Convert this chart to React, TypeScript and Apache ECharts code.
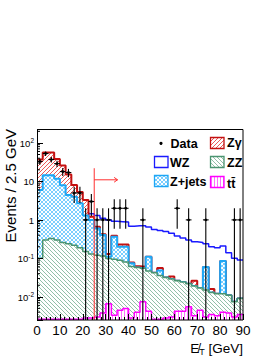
import React, { useEffect, useRef } from "react";
import * as echarts from "echarts";

const BIN_WIDTH = 2.5;
const X_MIN = 0;
const X_MAX = 90;
const X_INTERVAL = 10;
const Y_MIN = 0.0025;
const Y_MAX = 230;
const CUT_VALUE = 25;

// observed events per 2.5 GeV bin
const dataCounts = [33, 53, 37, 29, 18, 17, 5, 5, 1, 3, 1, 1, 1, 2, 2, 2, 0, 0, 1, 0, 0, 0, 0, 0, 2, 0, 1, 0, 0, 1, 0, 0, 0, 0, 1, 1];

// WZ (overlay, not stacked)
const wz = [0.6, 1.2, 1.6, 1.9, 2.0, 2.0, 1.9, 1.7, 1.6, 1.45, 1.3, 1.1, 1.0, 0.92, 0.9, 0.88, 0.68, 0.7, 0.7, 0.65, 0.56, 0.53, 0.5, 0.45, 0.38, 0.34, 0.3, 0.27, 0.26, 0.24, 0.2, 0.19, 0.21, 0.14, 0.1, 0.09];

// stacked backgrounds (bottom -> top): ttbar, ZZ, Z+jets, Zgamma
const ttbar = [0, 0, 0, 0, 0, 0, 0, 0, 0.0028, 0.0028, 0.003, 0.0038, 0.0066, 0.0033, 0.0045, 0.005, 0.0028, 0.004, 0.0075, 0.0042, 0, 0, 0.0028, 0.003, 0.0042, 0.0042, 0.0055, 0.0032, 0.0045, 0.003, 0.0035, 0.0032, 0.004, 0.0038, 0.003, 0.0035];
const zz = [0.1, 0.3, 0.33, 0.3, 0.26, 0.24, 0.22, 0.19, 0.147, 0.127, 0.117, 0.111, 0.093, 0.092, 0.085, 0.075, 0.059, 0.054, 0.048, 0.043, 0.042, 0.036, 0.029, 0.026, 0.022, 0.02, 0.0165, 0.0158, 0.0125, 0.012, 0.0095, 0.0088, 0.008, 0.0072, 0.0044, 0.0055];
const zjets = [5.9, 14.2, 14.2, 11.5, 7.7, 4.2, 3.8, 2.5, 1.15, 0.87, 0.48, 0.29, 0.01, 0.27, 0.11, 0.12, 0.013, 0, 0, 0.063, 0, 0.012, 0, 0, 0, 0, 0, 0, 0, 0.045, 0, 0, 0.074, 0, 0, 0];
const zgamma = [31, 41.5, 41.5, 26.2, 18, 10.6, 4, 2.6, 2.0, 0.2, 0.06, 0.02, 0.02, 0.02, 0.03, 0.03, 0.003, 0.004, 0.005, 0, 0, 0.008, 0, 0.005, 0, 0, 0, 0.007, 0, 0, 0.003, 0, 0, 0, 0, 0];

const FONT = "'Liberation Sans', Arial, Helvetica, sans-serif";
const C_ZG = "#c41010";
const C_ZJ = "#1ea7f5";
const C_ZZ = "#4a9470";
const C_TT = "#ff00ff";
const C_WZ = "#1a1aff";

function makePattern(kind: string, color: string, size: number, lw: number) {
  const c = document.createElement("canvas");
  c.width = size;
  c.height = size;
  const ctx = c.getContext("2d")!;
  ctx.fillStyle = "#ffffff";
  ctx.fillRect(0, 0, size, size);
  ctx.strokeStyle = color;
  ctx.lineWidth = lw;
  ctx.beginPath();
  const s = size;
  if (kind === "fwd" || kind === "cross") {
    ctx.moveTo(-s, s); ctx.lineTo(s, -s);
    ctx.moveTo(0, s); ctx.lineTo(s, 0);
    ctx.moveTo(0, 2 * s); ctx.lineTo(2 * s, 0);
  }
  if (kind === "back" || kind === "cross") {
    ctx.moveTo(0, 0); ctx.lineTo(s, s);
    ctx.moveTo(0, -s); ctx.lineTo(2 * s, s);
    ctx.moveTo(-s, 0); ctx.lineTo(s, 2 * s);
  }
  if (kind === "vert") {
    ctx.moveTo(s / 2, 0); ctx.lineTo(s / 2, s);
  }
  ctx.stroke();
  return { image: c, repeat: "repeat" };
}

export default function App() {
  const ref = useRef<HTMLDivElement>(null);
  useEffect(() => {
    const el = ref.current!;
    const chart = echarts.init(el, undefined, { renderer: "svg" });

    const pZg = makePattern("fwd", "#ec5a5a", 4, 1);
    const pZj = makePattern("cross", "#6cc8ff", 4, 0.9);
    const pZZ = makePattern("back", "#86b89e", 4, 0.9);
    const pTT = makePattern("vert", "#ff6eff", 3, 1);

    const floorV = Y_MIN * 1.05;
    const stepData = (vals: number[]) => {
      const pts: number[][] = vals.map((v, i) => [X_MIN + i * BIN_WIDTH, Math.max(v, floorV)]);
      pts.push([X_MIN + vals.length * BIN_WIDTH, Math.max(vals[vals.length - 1], floorV)]);
      return pts;
    };

    const stackOrder = [ttbar, zz, zjets, zgamma];
    const cumulative: number[][] = [];
    stackOrder.forEach((arr, k) => {
      cumulative.push(arr.map((v, i) => v + (k > 0 ? cumulative[k - 1][i] : 0)));
    });
    const [cumTT, cumZZ, cumZJ, cumZG] = cumulative;

    const histSeries = (name: string, vals: number[], color: string, width: number, fill: any, z: number) => ({
      name,
      type: "line",
      step: "end",
      data: stepData(vals),
      symbol: "none",
      showSymbol: false,
      silent: true,
      z,
      lineStyle: { color, width },
      areaStyle: fill ? { color: fill, opacity: 1, origin: "start" } : undefined,
      emphasis: { disabled: true },
    });

    const yMinor: number[][] = [];
    for (let k = -3; k <= 2; k++) {
      for (let m = 2; m <= 9; m++) {
        const v = m * Math.pow(10, k);
        if (v > Y_MIN && v < Y_MAX) yMinor.push([X_MIN, v]);
      }
    }

    const dataPts = dataCounts
      .map((n, i) => (n > 0 ? [X_MIN + i * BIN_WIDTH + BIN_WIDTH / 2, n] : null))
      .filter((p) => p !== null);

    const legendText = (text: string, x: number, y: number) => ({
      type: "text",
      x,
      y,
      z: 200,
      style: { text, fill: "#000", fontSize: 12.5, fontWeight: "bold", fontFamily: FONT, align: "left", verticalAlign: "middle" },
    });
    const legendBox = (x: number, y: number, stroke: string, fill: any) => ({
      type: "rect",
      z: 200,
      shape: { x, y, width: 13.5, height: 11 },
      style: { fill, stroke, lineWidth: 1.3 },
    });

    const option: any = {
      animation: false,
      grid: { left: 37, top: 129, width: 206, height: 191, containLabel: false },
      xAxis: {
        type: "value",
        min: X_MIN,
        max: X_MAX,
        interval: X_INTERVAL,
        z: 10,
        axisLine: { show: false },
        splitLine: { show: false },
        axisTick: { show: true, inside: true, length: 6, lineStyle: { color: "#000", width: 1 } },
        minorTick: { show: true, splitNumber: 5, length: 3, lineStyle: { color: "#000", width: 1 } },
        axisLabel: { color: "#000", fontSize: 13.5, fontFamily: FONT, margin: 3 },
      },
      yAxis: {
        type: "log",
        logBase: 10,
        min: Y_MIN,
        max: Y_MAX,
        z: 10,
        axisLine: { show: false },
        splitLine: { show: false },
        axisTick: { show: true, inside: true, length: 6, lineStyle: { color: "#000", width: 1 } },
        axisLabel: {
          color: "#000",
          fontFamily: FONT,
          margin: 3,
          formatter: (v: number) => {
            const lg = Math.log10(v);
            const e = Math.round(lg);
            if (Math.abs(lg - e) > 1e-6) return "";
            if (e === 0) return "{b|1}";
            if (e === 1) return "{b|10}";
            return "{b|10}{s|" + e + "}";
          },
          rich: {
            b: { fontSize: 9.5, fontFamily: FONT, lineHeight: 11, verticalAlign: "bottom", color: "#000" },
            s: { fontSize: 6.5, fontFamily: FONT, lineHeight: 11, verticalAlign: "top", color: "#000" },
          },
        },
      },
      series: [
        histSeries("WZ", wz, C_WZ, 1.5, null, 2),
        histSeries("Zγ", cumZG, C_ZG, 2, pZg, 3),
        histSeries("Z+jets", cumZJ, C_ZJ, 2, pZj, 4),
        histSeries("ZZ", cumZZ, C_ZZ, 1.5, pZZ, 5),
        histSeries("tt̄", cumTT, C_TT, 1.5, pTT, 6),
        {
          type: "line",
          name: "cut",
          data: [[CUT_VALUE, Y_MIN], [CUT_VALUE, 22]],
          symbol: "none",
          silent: true,
          z: 7,
          lineStyle: { color: "#ff3030", width: 1 },
        },
        {
          type: "line",
          name: "arrow",
          data: [[CUT_VALUE, 11], [35.2, 11]],
          symbol: "none",
          silent: true,
          z: 7,
          lineStyle: { color: "#ff3030", width: 1 },
        },
        {
          type: "line",
          name: "arrowhead",
          data: [[33.7, 12.7], [35.2, 11], [33.7, 9.55]],
          symbol: "none",
          silent: true,
          z: 7,
          lineStyle: { color: "#ff3030", width: 1 },
        },
        {
          type: "custom",
          name: "Data",
          data: dataPts,
          z: 8,
          silent: true,
          renderItem: (params: any, api: any) => {
            const x = api.value(0);
            const n = api.value(1);
            const err = Math.sqrt(n);
            const cs = params.coordSys;
            const c = api.coord([x, n]);
            const hi = api.coord([x, n + err]);
            const loY = n - err > Y_MIN ? api.coord([x, n - err])[1] : cs.y + cs.height;
            const l = api.coord([x - BIN_WIDTH / 2, n]);
            const r = api.coord([x + BIN_WIDTH / 2, n]);
            const st = { stroke: "#000", lineWidth: 1.1 };
            return {
              type: "group",
              children: [
                { type: "line", shape: { x1: c[0], y1: hi[1], x2: c[0], y2: loY }, style: st },
                { type: "line", shape: { x1: l[0], y1: c[1], x2: r[0], y2: c[1] }, style: st },
                { type: "circle", shape: { cx: c[0], cy: c[1], r: 1.4 }, style: { fill: "#000" } },
              ],
            };
          },
        },
        {
          type: "custom",
          name: "yMinorTicks",
          data: yMinor,
          z: 9,
          silent: true,
          renderItem: (params: any, api: any) => {
            const p = api.coord([api.value(0), api.value(1)]);
            const cs = params.coordSys;
            return {
              type: "line",
              shape: { x1: cs.x, y1: p[1], x2: cs.x + 3, y2: p[1] },
              style: { stroke: "#000", lineWidth: 1 },
            };
          },
        },
      ],
      graphic: [
        {
          type: "rect",
          z: 100,
          silent: true,
          shape: { x: 37.5, y: 129.5, width: 205.5, height: 190.5 },
          style: { fill: "none", stroke: "#000", lineWidth: 1 },
        },
        { type: "circle", z: 200, shape: { cx: 161, cy: 143.3, r: 1.6 }, style: { fill: "#000" } },
        legendText("Data", 170.5, 143.5),
        legendBox(210.5, 137.5, C_ZG, pZg),
        legendText("Zγ", 227, 143),
        legendBox(154.5, 156.5, C_WZ, "#ffffff"),
        legendText("WZ", 170, 162.5),
        legendBox(210.5, 156.5, C_ZZ, pZZ),
        legendText("ZZ", 227, 162.5),
        legendBox(154.5, 175.5, C_ZJ, pZj),
        legendText("Z+jets", 170, 182),
        legendBox(210.5, 176.5, C_TT, pTT),
        legendText("tt\u0304", 227, 184),
        {
          type: "text",
          z: 200,
          x: 10,
          y: 129,
          rotation: Math.PI / 2,
          style: { text: "Events / 2.5 GeV", fill: "#000", fontSize: 15, fontFamily: FONT, align: "right", verticalAlign: "middle" },
        },
        {
          type: "text",
          z: 200,
          x: 243,
          y: 348,
          style: {
            text: "{e|E\u0338}{s|T}{n| [GeV]}",
            fill: "#000",
            align: "right",
            verticalAlign: "middle",
            rich: {
              e: { fontSize: 13.5, fontFamily: FONT, lineHeight: 16, verticalAlign: "middle", fill: "#000" },
              s: { fontSize: 9, fontFamily: FONT, lineHeight: 16, verticalAlign: "bottom", fill: "#000" },
              n: { fontSize: 13.5, fontFamily: FONT, lineHeight: 16, verticalAlign: "middle", fill: "#000" },
            },
          },
        },
      ],
    };

    chart.setOption(option);
    return () => chart.dispose();
  }, []);

  return (
    <div
      ref={ref}
      style={{ position: "fixed", left: 0, top: 0, width: 277, height: 358, background: "#fff" }}
    />
  );
}
